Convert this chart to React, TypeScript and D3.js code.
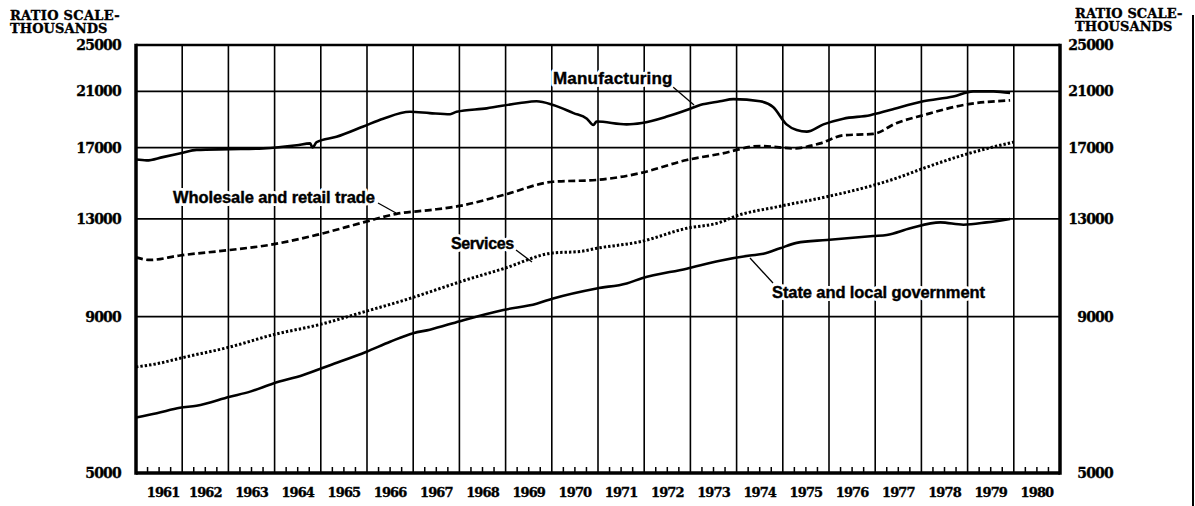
import React from "react";
import * as d3 from "d3";

// ---- data (decimal year, thousands) ----
const manufacturingYears = [1961.0,1961.23,1961.58,1961.99,1962.31,1963.03,1963.75,1964.48,1964.77,1964.82,1964.91,1965.34,1965.92,1966.35,1966.93,1967.36,1967.8,1967.94,1968.59,1969.31,1969.67,1970.03,1970.47,1970.76,1970.9,1970.97,1971.62,1971.95,1972.49,1972.92,1973.21,1973.64,1973.93,1974.51,1974.79,1975.08,1975.3,1975.52,1975.88,1976.31,1976.89,1977.32,1978.04,1978.69,1979.12,1979.56,1979.92];
const manufacturingValues = [16250,16200,16400,16650,16850,16900,16950,17150,17270,17000,17350,17700,18400,18950,19450,19350,19270,19450,19700,20100,20230,19950,19350,18950,18500,18750,18550,18650,19100,19580,19950,20230,20400,20230,19800,18550,18160,18050,18550,18950,19200,19580,20230,20600,21000,21000,20870];

const tradeYears = [1961.0,1961.3,1961.95,1963.03,1963.9,1964.91,1965.92,1966.64,1967.36,1968.01,1968.95,1970.03,1970.97,1971.91,1972.92,1973.64,1974.51,1975.23,1975.81,1976.31,1976.96,1977.47,1978.04,1978.91,1979.92];
const tradeValues = [11250,11140,11330,11565,11790,12240,12830,13250,13440,13650,14220,14950,15050,15440,16220,16600,17100,16950,17270,17800,17900,18650,19200,19950,20300];

const servicesYears = [1961.0,1961.45,1961.99,1963.03,1963.97,1964.98,1965.99,1966.93,1967.36,1968.01,1968.95,1970.03,1970.61,1970.97,1971.91,1972.92,1973.64,1973.97,1974.87,1975.95,1976.96,1977.47,1978.04,1978.91,1979.99];
const servicesValues = [7450,7540,7710,8030,8410,8740,9190,9640,9880,10260,10780,11440,11500,11640,11930,12550,12830,13130,13600,14130,14750,15160,15720,16530,17350];

const stateYears = [1961.0,1961.45,1961.95,1962.31,1963.03,1963.47,1963.97,1964.62,1965.2,1965.99,1966.5,1967.0,1967.36,1968.01,1968.95,1969.67,1970.03,1970.97,1971.62,1971.95,1972.92,1973.64,1974.29,1974.58,1974.94,1975.3,1975.95,1976.96,1977.25,1977.76,1978.41,1978.91,1979.41,1979.92];
const stateValues = [6160,6260,6390,6440,6660,6790,7000,7230,7500,7890,8190,8460,8570,8850,9230,9450,9640,10010,10200,10400,10780,11110,11330,11400,11640,11880,12010,12190,12240,12550,12830,12720,12830,13000];

const yearLabels = d3.range(1961, 1981);
const yTicks = [25000, 21000, 17000, 13000, 9000, 5000];

const W = 1195, H = 506;
const L = 136, R = 1060, T = 45, B = 473;

const x = d3.scaleLinear().domain([1961, 1981]).range([L, R]);
const y = d3.scaleLog().domain([5000, 25000]).range([B, T]);

const line = d3
  .line<[number, number]>()
  .x((d) => x(d[0]))
  .y((d) => y(d[1]))
  .curve(d3.curveMonotoneX);

const zip = (a: number[], b: number[]) => a.map((v, i) => [v, b[i]] as [number, number]);

const numFont = "'DejaVu Serif', 'Liberation Serif', serif";
const labFont = "'Liberation Sans', Arial, sans-serif";

function Label({ tx, ty, text, size = 16.5, ls = -0.1 }: { tx: number; ty: number; text: string; size?: number; ls?: number }) {
  return (
    <g>
      <text x={tx} y={ty} fontFamily={labFont} fontWeight="bold" fontSize={size} letterSpacing={ls} fill="#fff"
        stroke="#fff" strokeWidth={6} strokeLinejoin="round">
        {text}
      </text>
      <text x={tx} y={ty} fontFamily={labFont} fontWeight="bold" fontSize={size} letterSpacing={ls} fill="#000"
        stroke="#000" strokeWidth={0.4}>
        {text}
      </text>
    </g>
  );
}

const numStyle = { fontFamily: numFont, fontWeight: "bold" as const, stroke: "#000", strokeWidth: 0.35 };

export default function App() {
  const quarters: number[] = [];
  yearLabels.forEach((yr) => [0.25, 0.5, 0.75].forEach((q) => quarters.push(yr + q)));
  return (
    <svg width={W} height={H} style={{ position: "absolute", left: 0, top: 0, background: "#fff" }}>
      <rect x={0} y={0} width={W} height={H} fill="#fff" />
      {/* vertical year gridlines */}
      {d3.range(1962, 1981).map((yr) => (
        <line key={"v" + yr} x1={x(yr)} x2={x(yr)} y1={T} y2={B} stroke="#000" strokeWidth={1.6} />
      ))}
      {/* horizontal gridlines */}
      {yTicks.map((v) => (
        <line key={"h" + v} x1={L} x2={R} y1={y(v)} y2={y(v)} stroke="#000" strokeWidth={v === 25000 ? 2.6 : 1.8} />
      ))}
      {/* quarter ticks */}
      {quarters.map((q, i) => (
        <line key={"q" + i} x1={x(q)} x2={x(q)} y1={B} y2={B - 6} stroke="#000" strokeWidth={1.5} />
      ))}
      {/* frame */}
      <line x1={L} x2={L} y1={T - 1.3} y2={B + 1.7} stroke="#000" strokeWidth={3.5} />
      <line x1={R} x2={R} y1={T - 1.3} y2={B + 1.7} stroke="#000" strokeWidth={3.5} />
      <line x1={L} x2={R} y1={B} y2={B} stroke="#000" strokeWidth={3.5} />

      {/* series */}
      <path d={line(zip(manufacturingYears, manufacturingValues)) || ""} fill="none" stroke="#000" strokeWidth={2.6} />
      <path d={line(zip(tradeYears, tradeValues)) || ""} fill="none" stroke="#000" strokeWidth={2.7} strokeDasharray="7 3.5" />
      <path d={line(zip(servicesYears, servicesValues)) || ""} fill="none" stroke="#000" strokeWidth={3} strokeDasharray="2.4 2" />
      <path d={line(zip(stateYears, stateValues)) || ""} fill="none" stroke="#000" strokeWidth={2.6} />

      {/* annotation labels with leaders */}
      <line x1={673} y1={87} x2={694} y2={105} stroke="#000" strokeWidth={1.3} />
      <Label tx={553} ty={84} text="Manufacturing" size={17} ls={0.2} />
      <line x1={378} y1={203} x2={396} y2={213} stroke="#000" strokeWidth={1.3} />
      <Label tx={173} ty={203} text="Wholesale and retail trade" />
      <line x1={516} y1={250} x2={532} y2={262} stroke="#000" strokeWidth={1.3} />
      <Label tx={451} ty={249} text="Services" size={16} ls={-0.4} />
      <line x1={773} y1={283} x2={750} y2={258} stroke="#000" strokeWidth={1.3} />
      <Label tx={772} ty={298} text="State and local government" />

      {/* y labels left and right */}
      {yTicks.map((v) => (
        <g key={"yl" + v}>
          <text x={121} y={y(v) + 5} textAnchor="end" fontSize={14} letterSpacing={-0.8} {...numStyle}>
            {v}
          </text>
          <text x={1113} y={y(v) + 5} textAnchor="end" fontSize={14} letterSpacing={-0.8} {...numStyle}>
            {v}
          </text>
        </g>
      ))}
      {/* year labels */}
      {yearLabels.map((yr) => (
        <text key={"yr" + yr} x={x(yr + 0.5) + (yr === 1961 ? 4 : 0)} y={497} textAnchor="middle" fontSize={13} letterSpacing={-0.9} {...numStyle}>
          {yr}
        </text>
      ))}
      {/* titles */}
      <text x={10} y={20} fontSize={13} letterSpacing={0.3} {...numStyle}>RATIO SCALE-</text>
      <text x={10} y={33} fontSize={13} letterSpacing={0.1} {...numStyle}>THOUSANDS</text>
      <text x={1075} y={18} fontSize={13} letterSpacing={0.1} {...numStyle}>RATIO SCALE-</text>
      <text x={1075} y={31} fontSize={13} letterSpacing={0.1} {...numStyle}>THOUSANDS</text>
      {/* scan border on right */}
      <line x1={1193} x2={1193} y1={15} y2={H} stroke="#000" strokeWidth={2} />
    </svg>
  );
}
